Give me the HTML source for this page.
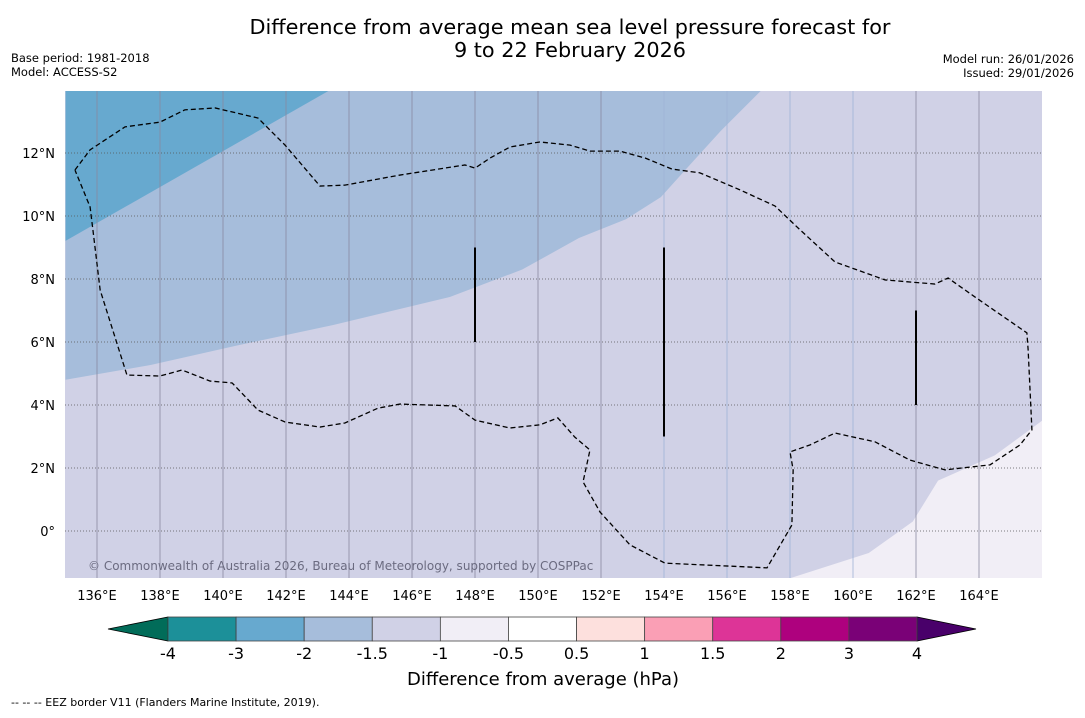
<!DOCTYPE html>
<html><head><meta charset="utf-8"><style>
body{margin:0;background:#fff;font-family:"Liberation Sans","DejaVu Sans",sans-serif}
svg text{font-family:"DejaVu Sans","Liberation Sans",sans-serif}
</style></head><body>
<svg id="c" width="1085" height="713" xmlns="http://www.w3.org/2000/svg">
<text x="570" y="34" font-size="20.8" text-anchor="middle">Difference from average mean sea level pressure forecast for</text>
<text x="570" y="57" font-size="20.8" text-anchor="middle">9 to 22 February 2026</text>
<text x="11" y="62" font-size="11.5">Base period: 1981-2018</text>
<text x="11" y="76" font-size="11.5">Model: ACCESS-S2</text>
<text x="1074" y="63" font-size="11.5" text-anchor="end">Model run: 26/01/2026</text>
<text x="1074" y="77" font-size="11.5" text-anchor="end">Issued: 29/01/2026</text>
<g id="map"></g>
<g id="cb"></g>
<text x="543" y="685" font-size="18" text-anchor="middle">Difference from average (hPa)</text>
<text x="11" y="706" font-size="11">--  --  -- EEZ border V11 (Flanders Marine Institute, 2019).</text>
</svg>
<script>
const lonTicks=[136,138,140,142,144,146,148,150,152,154,156,158,160,162,164];
const latTicks=[0,2,4,6,8,10,12];
const darkEdgeLon=[135,143.4];const darkEdgeLat=[9.21,14];
const midEdgeLon=[135,137.7,140.5,143.5,147.2,149.5,151.3,152.8,153.9,154.8,155.8,157.1];
const midEdgeLat=[4.8,5.27,5.9,6.54,7.43,8.3,9.3,9.9,10.6,11.6,12.7,14];
const lightEdgeLon=[158,160.5,161.9,162.7,164.5,166];
const lightEdgeLat=[-1.5,-0.7,0.3,1.6,2.4,3.5];
const eezLon=[135.30,135.78,136.89,138.0,138.79,139.75,141.11,141.97,143.08,143.87,145.62,147.68,148.0,148.48,149.11,150.06,151.02,151.65,152.6,153.40,154.25,155.14,156.41,157.52,158.32,159.43,161.02,162.60,163.02,163.87,165.52,165.56,165.68,165.30,164.35,162.92,161.81,160.70,159.43,158.63,158.0,158.10,158.06,157.27,154.03,152.92,151.97,151.43,151.65,151.17,150.63,150.06,149.11,148.0,147.37,145.62,144.92,143.87,143.08,141.97,141.11,140.29,139.59,138.70,138.0,136.95,136.10,135.87,135.78,135.30];
const eezLat=[11.46,12.10,12.83,12.98,13.37,13.43,13.11,12.25,10.95,10.98,11.30,11.62,11.52,11.84,12.19,12.35,12.25,12.06,12.06,11.84,11.49,11.37,10.83,10.32,9.56,8.54,7.97,7.84,8.03,7.43,6.29,5.75,3.21,2.73,2.10,1.94,2.25,2.83,3.11,2.73,2.51,1.94,0.19,-1.17,-1.02,-0.44,0.60,1.56,2.57,2.98,3.59,3.37,3.27,3.52,3.97,4.03,3.90,3.43,3.30,3.46,3.84,4.70,4.76,5.11,4.92,4.95,7.65,9.56,10.29,11.46];
const barLon=[148,154,162];const barLat0=[6,3,4];const barLat1=[9,9,7];
const cbLabels=["-4","-3","-2","-1.5","-1","-0.5","0.5","1","1.5","2","3","4"];
const cbColors=["#1c9099","#67a9cf","#a6bddb","#d0d1e6","#f1eef6","#ffffff","#fde0dd","#fa9fb5","#dd3497","#ae017e","#7a0177"];
const NS="http://www.w3.org/2000/svg";
const X0=65,X1=1042,Y0=91,Y1=578;
const xs=l=>97+(l-136)*31.5, ys=a=>531-a*31.5;
function mk(t,at,p){const e=document.createElementNS(NS,t);for(const k in at)e.setAttribute(k,at[k]);p.appendChild(e);return e;}
const map=document.getElementById('map');
const defs=mk('defs',{},map);const cp=mk('clipPath',{id:'clip'},defs);mk('rect',{x:X0,y:Y0,width:X1-X0,height:Y1-Y0},cp);
const g=mk('g',{'clip-path':'url(#clip)'},map);
let r=mk('rect',{x:X0,y:Y0,width:X1-X0,height:Y1-Y0,fill:'#d0d1e6'},g);

function pts(lo,la){return lo.map((l,i)=>xs(l)+','+ys(la[i])).join(' ');}
let p=mk('polygon',{points:xs(135)+','+ys(14)+' '+pts(midEdgeLon,midEdgeLat),fill:'#a6bddb'},g);

p=mk('polygon',{points:xs(135)+','+ys(14)+' '+pts(darkEdgeLon,darkEdgeLat),fill:'#67a9cf'},g);

p=mk('polygon',{points:pts(lightEdgeLon,lightEdgeLat)+' '+xs(166)+','+ys(-1.5),fill:'#f1eef6'},g);

lonTicks.forEach(l=>{
 const ln=mk('line',{x1:xs(l),x2:xs(l),y1:Y0,y2:Y1,stroke:(l>=154&&l<=160)?'#9fb3d6':'#8a8aa0','stroke-width':0.8},g);
 
 const t=mk('text',{x:xs(l),y:600,'font-size':13,'text-anchor':'middle'},map);t.textContent=l+'°E';
 
});
latTicks.forEach(a=>{
 const ln=mk('line',{x1:X0,x2:X1,y1:ys(a),y2:ys(a),stroke:'#555','stroke-width':0.7,'stroke-dasharray':'1,2'},g);
 
 const t=mk('text',{x:55,y:ys(a)+5,'font-size':13,'text-anchor':'end'},map);t.textContent=a===0?'0°':a+'°N';
 
});
p=mk('polyline',{points:pts(eezLon,eezLat),fill:'none',stroke:'#000','stroke-width':1.3,'stroke-dasharray':'5,3'},g);

barLon.forEach((l,i)=>{const b=mk('line',{x1:xs(l),x2:xs(l),y1:ys(barLat1[i]),y2:ys(barLat0[i]),stroke:'#000','stroke-width':2},g);
 });
let t=mk('text',{x:88,y:570,'font-size':12,fill:'#6b6b80'},g);t.textContent='© Commonwealth of Australia 2026, Bureau of Meteorology, supported by COSPPac';

const cb=document.getElementById('cb');
const L=168,R=917,T=617,B=641,w=(R-L)/cbColors.length;
p=mk('polygon',{points:`108,629 ${L},${T} ${L},${B}`,fill:'#016c59',stroke:'#000','stroke-width':0.8},cb);

p=mk('polygon',{points:`976,629 ${R},${T} ${R},${B}`,fill:'#49006a',stroke:'#000','stroke-width':0.8},cb);

cbColors.forEach((c,i)=>{const q=mk('rect',{x:L+i*w,y:T,width:w,height:B-T,fill:c,stroke:'#444','stroke-width':0.8},cb);
 });
cbLabels.forEach((s,i)=>{const q=mk('text',{x:L+i*w,y:659,'font-size':16,'text-anchor':'middle'},cb);q.textContent=s;
 });
</script>
</body></html>
